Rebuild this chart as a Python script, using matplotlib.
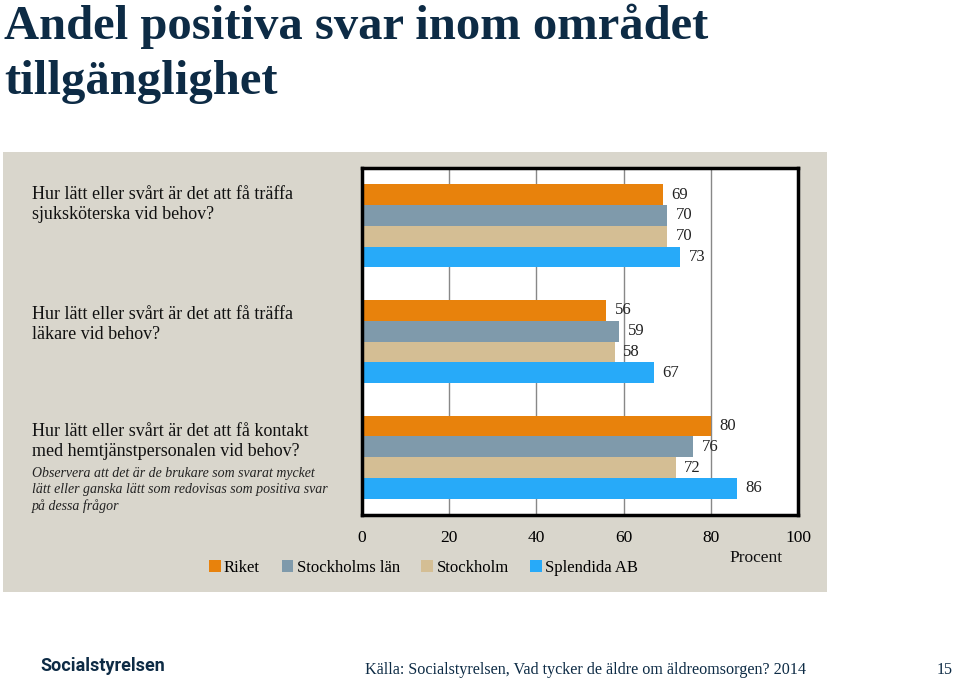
import numpy as np
import matplotlib.pyplot as plt
from matplotlib.patches import Rectangle

# Data
fragor = ["Hur lätt eller svårt är det att få träffa\nsjuksköterska vid behov?",
          "Hur lätt eller svårt är det att få träffa\nläkare vid behov?",
          "Hur lätt eller svårt är det att få kontakt\nmed hemtjänstpersonalen vid behov?"]
serier = ["Riket", "Stockholms län", "Stockholm", "Splendida AB"]
riket = [69, 56, 80]
stockholms_lan = [70, 59, 76]
stockholm = [70, 58, 72]
splendida = [73, 67, 86]
farger = ["#e8820c", "#7f9aab", "#d4be94", "#27aaf9"]
xticks = [0, 20, 40, 60, 80, 100]

W, H = 960, 683
serif = "Liberation Serif"

fig = plt.figure(figsize=(W / 100, H / 100), dpi=100)
fig.patch.set_facecolor("white")

def fx(px):
    return px / W

def fy(py):
    return 1 - py / H

# grå bakgrundspanel
fig.patches.append(Rectangle((fx(3), fy(592)), fx(827) - fx(3), fy(152) - fy(592),
                             transform=fig.transFigure, facecolor="#d9d6cc",
                             edgecolor="none", zorder=-5))

# Titel
fig.text(fx(4), fy(26), "Andel positiva svar inom området", fontsize=35,
         fontweight="bold", color="#0d2b45", family=serif, va="center")
fig.text(fx(4), fy(82), "tillgänglighet", fontsize=35,
         fontweight="bold", color="#0d2b45", family=serif, va="center")

ax = fig.add_axes([fx(362), fy(515), fx(798) - fx(362), fy(168) - fy(515)])
ax.set_facecolor("white")

y = np.arange(len(fragor))
h = 0.18
varden = [riket, stockholms_lan, stockholm, splendida]
for i, (namn, v, c) in enumerate(zip(serier, varden, farger)):
    pos = y + (i - 1.5) * h
    ax.barh(pos, v, height=h, color=c, label=namn, zorder=3)
    for p, val in zip(pos, v):
        ax.text(val + 1.9, p, str(val), va="center", ha="left", fontsize=12,
                family=serif, color="#222222", zorder=4)

ax.set_xlim(0, 100)
ax.set_ylim(2.5, -0.5)
ax.set_xticks(xticks)
ax.set_yticks([])
ax.xaxis.grid(True, color="#888888", linewidth=1, zorder=1)
ax.tick_params(axis="x", length=0, pad=11, labelsize=12.5)
for lab in ax.get_xticklabels():
    lab.set_family(serif)
for s in ax.spines.values():
    s.set_linewidth(2.5)
    s.set_color("black")
    s.set_zorder(5)

# Frågor till vänster
for i, txt in enumerate(fragor):
    fig.text(fx(32), fy([186, 306, 423][i]), txt, fontsize=13, family=serif,
             va="top", ha="left", color="#111111", linespacing=1.2)

fig.text(fx(32), fy(467), "Observera att det är de brukare som svarat mycket\n"
         "lätt eller ganska lätt som redovisas som positiva svar\npå dessa frågor",
         fontsize=10, family=serif, style="italic", va="top", ha="left",
         color="#222222", linespacing=1.3)

fig.text(fx(756), fy(558), "Procent", fontsize=12.5, family=serif, ha="center",
         va="center", color="#111111")

leg = fig.legend(loc="center left", bbox_to_anchor=(fx(194), fy(568)), ncol=4,
                 frameon=False, handlelength=0.7, handleheight=0.7,
                 handletextpad=0.2, columnspacing=1.3,
                 prop={"family": serif, "size": 12})

# Sidfot
fig.text(fx(40), fy(666), "Socialstyrelsen", fontsize=13, fontweight="bold",
         family="Roboto", color="#0d2b45", va="center", ha="left")
fig.text(fx(365), fy(670), "Källa: Socialstyrelsen, Vad tycker de äldre om äldreomsorgen? 2014",
         fontsize=11.6, family=serif, color="#0d2b45", va="center", ha="left")
fig.text(fx(953), fy(670), "15", fontsize=11.5, family=serif, color="#0d2b45",
         va="center", ha="right")

fig.savefig("out.png", dpi=100)
